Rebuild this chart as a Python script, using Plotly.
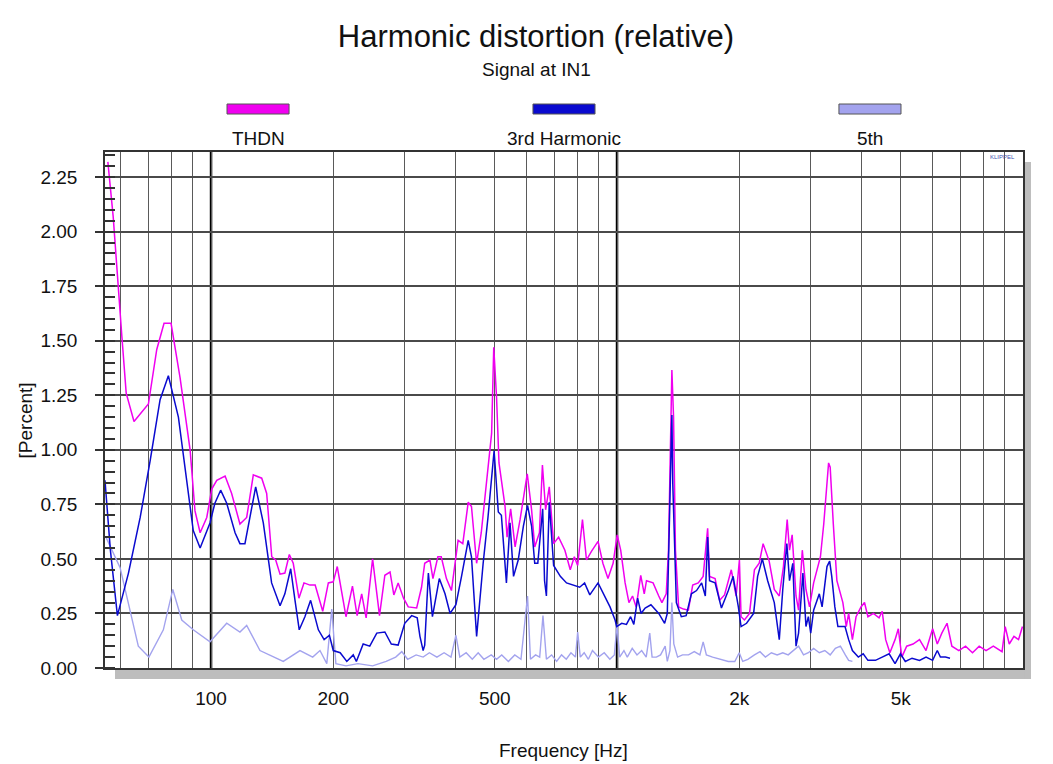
import plotly.graph_objects as go

# ---------------- data ----------------
thdn_freq = [55.7, 57.4, 60.3, 61.8, 64.6, 70.1, 73.5, 76.6, 79.7, 83.9, 88.8, 91.3, 94.0, 97.6,
             100.4, 103.3, 108.3, 112.4, 117.8, 122.4, 127.1, 133.3, 137.1, 141.1, 144.3, 147.9,
             152, 155.9, 159.4, 164.6, 169.4, 175.3, 180.5, 188.4, 194.5, 200, 204.6, 215, 223,
             229, 235, 241, 250, 260, 268, 276, 282, 289, 298, 306, 321, 330, 336, 346, 352, 362,
             369, 380, 391, 399, 406, 417, 430, 438, 451, 463, 476, 491, 497, 505, 512, 530, 536,
             547, 561, 577, 601, 616, 627, 644, 655, 667, 681, 698, 718, 744, 767, 785, 800, 822,
             841, 865, 898, 923, 950, 978, 1001, 1021, 1047, 1070, 1092, 1115, 1144, 1167, 1182,
             1227, 1267, 1290, 1322, 1339, 1365, 1378, 1393, 1418, 1458, 1499, 1536, 1585, 1630,
             1672, 1690, 1744, 1790, 1840, 1912, 1965, 2002, 2021, 2060, 2120, 2180, 2240, 2290,
             2370, 2440, 2510, 2570, 2625, 2660, 2700, 2760, 2800, 2860, 2920, 2980, 3050, 3170,
             3230, 3320, 3350, 3410, 3480, 3600, 3670, 3720, 3800, 3880, 3990, 4070, 4150, 4280,
             4420, 4500, 4590, 4700, 4840, 4930, 5030, 5170, 5360, 5560, 5770, 5990, 6150, 6310,
             6500, 6680, 6950, 7220, 7510, 7800, 8110, 8450, 8880, 9040, 9250, 9500, 9750, 9970]
thdn_val = [2.32, 2.07, 1.52, 1.26, 1.13, 1.21, 1.46, 1.58, 1.58, 1.33, 1.00, 0.72, 0.62, 0.69,
            0.82, 0.86, 0.88, 0.80, 0.66, 0.69, 0.885, 0.87, 0.80, 0.51, 0.495, 0.43,
            0.435, 0.52, 0.48, 0.32, 0.39, 0.38, 0.38, 0.26, 0.39, 0.395, 0.465, 0.235, 0.375,
            0.24, 0.34, 0.23, 0.50, 0.24, 0.425, 0.44, 0.335, 0.39, 0.32, 0.28, 0.275, 0.37, 0.48, 0.495, 0.41, 0.51,
            0.51, 0.41, 0.355, 0.48, 0.585, 0.57, 0.76, 0.74, 0.48, 0.62, 0.83, 1.075, 1.47, 1.24, 0.94, 0.74, 0.60,
            0.73, 0.555, 0.68, 0.89, 0.725, 0.555, 0.62, 0.93, 0.725, 0.83, 0.57, 0.60, 0.54, 0.45, 0.51, 0.47, 0.68,
            0.495, 0.535, 0.58, 0.48, 0.41, 0.48, 0.61, 0.54, 0.39, 0.30, 0.33, 0.28, 0.425, 0.34, 0.40,
            0.39, 0.33, 0.30, 0.34, 0.54, 1.366, 1.15, 0.54, 0.28, 0.27, 0.265, 0.38, 0.39, 0.42,
            0.64, 0.42, 0.41, 0.31, 0.335, 0.45, 0.33, 0.495, 0.235, 0.22, 0.25, 0.45, 0.48, 0.57,
            0.49, 0.36, 0.33, 0.465, 0.68, 0.54, 0.61, 0.33, 0.265, 0.54, 0.36, 0.28, 0.39, 0.51,
            0.66, 0.94, 0.92, 0.66, 0.40, 0.30, 0.19, 0.25, 0.13, 0.235, 0.28, 0.30, 0.235, 0.25,
            0.23, 0.26, 0.13, 0.07, 0.13, 0.18, 0.05, 0.10, 0.11, 0.13, 0.08, 0.18, 0.11, 0.16,
            0.205, 0.10, 0.08, 0.10, 0.07, 0.10, 0.08, 0.10, 0.075, 0.19, 0.11, 0.145, 0.13, 0.19]

h3_freq = [54.8, 56.5, 58.8, 62.6, 66.9, 70.8, 74.9, 78.5, 83.1, 86.3, 90.4, 94.0, 99.4, 102.2,
           105.6, 109.3, 114.6, 117.8, 121.2, 128.8, 134.5, 141, 147.9, 152, 157.1, 161, 164.9,
           170.3, 175.9, 183.8, 189.9, 195.7, 200, 208, 216, 224, 228, 237, 246, 256, 268, 278,
           289, 300, 312, 322, 327, 333, 336, 343, 351, 365, 377, 388, 401, 414, 430, 438, 451,
           468, 481, 498, 510, 519, 534, 545, 556, 571, 588, 602, 616, 627, 638, 656, 663, 670,
           681, 698, 725, 751, 780, 809, 832, 857, 898, 933, 961, 989, 998, 1027, 1055, 1080,
           1100, 1124, 1146, 1173, 1212, 1267, 1310, 1330, 1365, 1372, 1400, 1440, 1480, 1525,
           1570, 1616, 1650, 1672, 1690, 1744, 1808, 1880, 1932, 1990, 2021, 2085, 2170, 2220,
           2280, 2350, 2440, 2510, 2560, 2620, 2660, 2710, 2760, 2800, 2870, 2920, 2960, 3000,
           3050, 3150, 3200, 3290, 3340, 3380, 3440, 3500, 3644, 3720, 3800, 3930, 4040, 4150,
           4330, 4500, 4680, 4840, 4990, 5130, 5330, 5560, 5770, 5990, 6150, 6260, 6440, 6610]
h3_val = [0.86, 0.54, 0.24, 0.435, 0.69, 0.95, 1.23, 1.34, 1.15, 0.92, 0.63, 0.55, 0.665, 0.755,
          0.815, 0.755, 0.62, 0.57, 0.57, 0.83, 0.665, 0.39, 0.285, 0.34, 0.455, 0.31, 0.175,
          0.235, 0.31, 0.175, 0.13, 0.15, 0.08, 0.07, 0.03, 0.06, 0.03, 0.11, 0.10, 0.16, 0.165, 0.11,
          0.105, 0.205, 0.24, 0.23, 0.145, 0.08, 0.105, 0.435, 0.235, 0.41, 0.34, 0.25, 0.29, 0.42, 0.585, 0.51, 0.145,
          0.48, 0.69, 0.995, 0.715, 0.70, 0.39, 0.665, 0.42, 0.495, 0.65, 0.745, 0.65, 0.48, 0.48, 0.73, 0.40, 0.33,
          0.76, 0.47, 0.42, 0.39, 0.38, 0.37, 0.39, 0.335, 0.39, 0.33, 0.28, 0.22, 0.19, 0.205, 0.20, 0.235,
          0.20, 0.32, 0.25, 0.275, 0.29, 0.25, 0.205, 0.25, 1.16, 0.845, 0.30, 0.235, 0.24, 0.34,
          0.355, 0.39, 0.33, 0.60, 0.40, 0.39, 0.275, 0.355, 0.42, 0.28, 0.19, 0.205, 0.25, 0.42,
          0.50, 0.40, 0.30, 0.13, 0.36, 0.57, 0.40, 0.48, 0.10, 0.16, 0.435, 0.19, 0.235, 0.16,
          0.265, 0.34, 0.28, 0.465, 0.49, 0.42, 0.28, 0.19, 0.19, 0.13, 0.08, 0.05, 0.065, 0.035,
          0.035, 0.05, 0.065, 0.02, 0.065, 0.03, 0.045, 0.035, 0.05, 0.035, 0.08, 0.05, 0.05, 0.045]

h5_freq = [55.1, 59.7, 66.2, 70.3, 76.3, 80.5, 84.7, 90.4, 99.4, 109.3, 117.8, 122.4, 132, 150.6,
           165.6, 178, 185.5, 192.8, 198.3, 203, 215, 230, 250, 270, 285, 295, 305, 320, 333, 345,
           360, 375, 390, 401, 410, 425, 440, 455, 470, 490, 505, 520, 540, 560, 580, 602, 612,
           630, 645, 657, 670, 690, 710, 730, 750, 770, 790, 800, 812, 830, 850, 870, 900, 930,
           960, 985, 1000, 1015, 1040, 1060, 1090, 1120, 1150, 1180, 1204, 1220, 1250, 1280, 1314,
           1330, 1350, 1365, 1380, 1410, 1450, 1500, 1550, 1600, 1630, 1660, 1720, 1800, 1880,
           1950, 2000, 2040, 2100, 2180, 2250, 2320, 2400, 2480, 2560, 2640, 2720, 2800, 2880,
           2960, 3050, 3150, 3250, 3350, 3450, 3550, 3650, 3720, 3800]
h5_val = [0.60, 0.46, 0.10, 0.05, 0.175, 0.36, 0.22, 0.175, 0.12, 0.205, 0.165, 0.195, 0.08, 0.03,
          0.08, 0.05, 0.08, 0.02, 0.27, 0.02, 0.01, 0.02, 0.01, 0.03, 0.05, 0.075, 0.04, 0.06, 0.05, 0.07,
          0.05, 0.07, 0.05, 0.15, 0.05, 0.07, 0.04, 0.07, 0.04, 0.06, 0.04, 0.06, 0.03, 0.06, 0.04, 0.33, 0.04,
          0.06, 0.05, 0.24, 0.04, 0.06, 0.03, 0.06, 0.04, 0.07, 0.05, 0.165, 0.05, 0.07, 0.04, 0.08, 0.05, 0.07,
          0.04, 0.06, 0.20, 0.05, 0.08, 0.05, 0.09, 0.06, 0.08, 0.05, 0.16, 0.05, 0.05, 0.06, 0.10,
          0.03, 0.08, 0.30, 0.11, 0.05, 0.06, 0.06, 0.075, 0.06, 0.12, 0.06, 0.05, 0.04, 0.03,
          0.03, 0.07, 0.03, 0.04, 0.06, 0.075, 0.05, 0.07, 0.06, 0.07, 0.06, 0.08, 0.10, 0.06,
          0.07, 0.09, 0.07, 0.08, 0.06, 0.09, 0.10, 0.06, 0.035, 0.03]

grid_freqs = [60, 70, 80, 90, 100, 200, 300, 400, 500, 600, 700, 800, 900, 1000,
              2000, 3000, 4000, 5000, 6000, 7000, 8000, 9000, 10000]
grid_labels = ["", "", "", "", "100", "200", "", "", "500", "", "", "", "", "1k",
               "2k", "", "", "5k", "", "", "", "", ""]
bold_freqs = [100, 1000]
y_ticks = [0, 0.25, 0.5, 0.75, 1.0, 1.25, 1.5, 1.75, 2.0, 2.25]
y_labels = ["0.00", "0.25", "0.50", "0.75", "1.00", "1.25", "1.50", "1.75", "2.00", "2.25"]

series_names = ["THDN", "3rd Harmonic", "5th"]
series_colors = ["#F000F0", "#0A0ACF", "#A3A3EE"]

FONT = "Liberation Sans, Arial, sans-serif"

fig = go.Figure()
fig.add_trace(go.Scatter(x=h5_freq, y=h5_val, mode="lines", name=series_names[2],
                         line=dict(color=series_colors[2], width=1.4)))
fig.add_trace(go.Scatter(x=thdn_freq, y=thdn_val, mode="lines", name=series_names[0],
                         line=dict(color=series_colors[0], width=1.5)))
fig.add_trace(go.Scatter(x=h3_freq, y=h3_val, mode="lines", name=series_names[1],
                         line=dict(color=series_colors[1], width=1.5)))

shapes = []
for f in bold_freqs:
    shapes.append(dict(type="line", xref="x", yref="paper", x0=f, x1=f, y0=0, y1=1,
                       line=dict(color="#000000", width=2.5), layer="between"))
# drop shadow of the plot frame
shapes.append(dict(type="rect", xref="paper", yref="paper", x0=0.0109, x1=1.0087,
                   y0=-0.0213, y1=-0.003, fillcolor="#BDBDBD", line=dict(width=0), layer="below"))
shapes.append(dict(type="rect", xref="paper", yref="paper", x0=1.0012, x1=1.0087,
                   y0=-0.0213, y1=0.9806, fillcolor="#BDBDBD", line=dict(width=0), layer="below"))
# custom legend swatches
legend_x = [0.1667, 0.5, 0.8333]
for name, col, cx in zip(series_names, series_colors, legend_x):
    shapes.append(dict(type="rect", xref="paper", yref="paper", x0=cx - 0.0338, x1=cx + 0.0338,
                       y0=1.0736, y1=1.093, fillcolor=col, line=dict(color="#555555", width=1)))


def note(text, x, y, size, color="#111111", angle=0):
    return dict(text=text, xref="paper", yref="paper", x=x, y=y, xanchor="center",
                yanchor="middle", textangle=angle, showarrow=False,
                font=dict(family=FONT, size=size, color=color))


annotations = [
    note("Signal at IN1", 0.4695, 1.159, 19),
    note("[Percent]", -0.087, 0.48, 19, angle=-90),
    note("Frequency [Hz]", 0.499, -0.159, 19),
    note("KLIPPEL", 0.978, 0.99, 6, color="#4050B0"),
]
for name, cx in zip(series_names, legend_x):
    annotations.append(note(name, cx, 1.0252, 19))

fig.update_layout(
    width=1053, height=764,
    margin=dict(l=105, r=30, t=152, b=96),
    paper_bgcolor="white", plot_bgcolor="white",
    showlegend=False,
    title=dict(text="Harmonic distortion (relative)", x=0.509, xanchor="center",
               y=0.953, yanchor="middle", yref="container",
               font=dict(family=FONT, size=31, color="#111111")),
    font=dict(family=FONT, color="#111111"),
    shapes=shapes,
    annotations=annotations,
)
fig.update_xaxes(type="log", range=[1.7388, 4.0], tickmode="array", tickvals=grid_freqs,
                 ticktext=grid_labels, showgrid=True, gridcolor="#5A5A5A", gridwidth=1.2,
                 ticks="", ticklabelstandoff=12, tickfont=dict(family=FONT, size=19, color="#111111"),
                 showline=True, linecolor="#333333", linewidth=1.5, mirror=True, zeroline=False)
fig.update_yaxes(range=[0, 2.365], tickmode="array", tickvals=y_ticks, ticktext=y_labels,
                 showgrid=True, gridcolor="#4A4A4A", gridwidth=1.5,
                 ticks="outside", ticklen=8, tickcolor="#333333", tickwidth=1.5,
                 ticklabelstandoff=14, tickfont=dict(family=FONT, size=19, color="#111111"),
                 minor=dict(dtick=0.05, tick0=0, ticks="inside", ticklen=10, tickcolor="#333333",
                            tickwidth=1.5, showgrid=False),
                 showline=True, linecolor="#333333", linewidth=1.5, mirror=True, zeroline=False)

fig.write_html("out.html")
